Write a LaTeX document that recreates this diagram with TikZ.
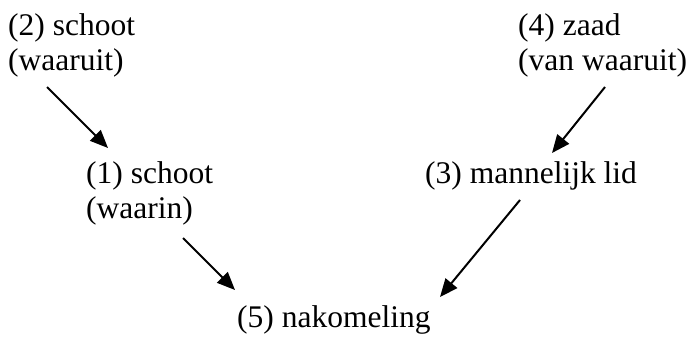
\documentclass[tikz,border=0pt]{standalone}
\usepackage{fontspec}
\setmainfont{Liberation Serif}
\usepackage{tikz}
\usetikzlibrary{arrows.meta}
\usetikzlibrary{calc}
\tikzstyle{term}=[anchor=base west,align=left,inner sep=0pt,font=\fontsize{31.5}{35}\selectfont]
\tikzstyle{edge} = [draw,line width=2pt,-{Triangle[length=18pt,width=15pt]}]

\begin{document}
\begin{tikzpicture}[x=1pt,y=-1pt]
    \useasboundingbox (0,0) rectangle (692,338);

    \foreach \pos/ \name/ \txt in {{(8,70)/n2/{(2) schoot\\(waaruit)}}, {(86,218)/n1/{(1) schoot\\(waarin)}},
        {(518,70)/n4/{(4) zaad\\(van waaruit)}}, {(425,183)/n3/{(3) mannelijk lid}}, {(237,327)/n5/{(5) nakomeling}}}
        \node[term] (\name) at \pos {\txt};

    % arrows between the terms
    \path[edge] ($(n2.base west)+(39,17)$) -- ($(n1.base west)+(22,-70)$);
    \path[edge] ($(n4.base west)+(87,17)$) -- ($(n3.base west)+(127,-30)$);
    \path[edge] ($(n1.base west)+(97,20)$) -- ($(n5.base west)+(-2,-37)$);
    \path[edge] ($(n3.base west)+(95,17)$) -- ($(n5.base west)+(203,-30)$);
\end{tikzpicture}
\end{document}
